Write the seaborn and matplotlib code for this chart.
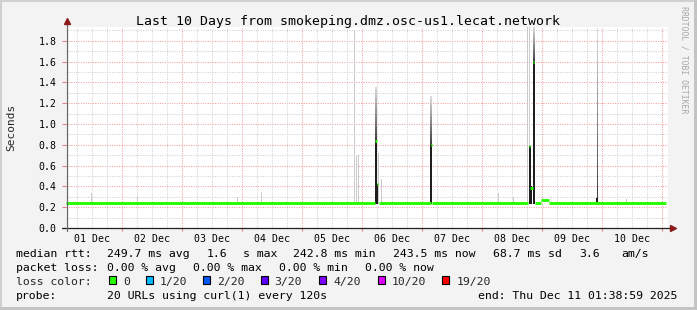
import numpy as np
import pandas as pd
import matplotlib
matplotlib.use("Agg")
import matplotlib.pyplot as plt
from matplotlib.patches import Rectangle
from matplotlib.colors import to_rgb
import seaborn as sns

# ------------------------------------------------------------------ data
title = "Last 10 Days from smokeping.dmz.osc-us1.lecat.network"
day_labels = ["01 Dec", "02 Dec", "03 Dec", "04 Dec", "05 Dec",
              "06 Dec", "07 Dec", "08 Dec", "09 Dec", "10 Dec"]
day_label_pos = [0.5, 1.5, 2.5, 3.5, 4.5, 5.5, 6.5, 7.5, 8.5, 9.5]   # days since 01 Dec 00:00
y_ticks = [0.0, 0.2, 0.4, 0.6, 0.8, 1.0, 1.2, 1.4, 1.6, 1.8]
y_tick_labels = ["0.0", "0.2", "0.4", "0.6", "0.8", "1.0", "1.2", "1.4", "1.6", "1.8"]

# median rtt (seconds), drawn as horizontal pieces (time in days since 01 Dec 00:00)
med_start = [0.068, 5.225, 5.250, 5.283, 6.142, 6.167, 7.783, 7.805, 7.850, 7.883, 7.983, 8.117]
med_end   = [5.225, 5.250, 5.267, 6.142, 6.167, 7.765, 7.805, 7.842, 7.875, 7.983, 8.117, 10.068]
med_value = [0.244, 0.835, 0.420, 0.244, 0.795, 0.244, 0.790, 0.385, 1.600, 0.244, 0.272, 0.244]

# dense (dark) smoke
dark_day = [5.2375, 5.258, 6.154, 7.793, 7.823, 7.867, 8.925]
dark_top = [0.835, 0.420, 0.800, 0.790, 0.400, 1.600, 0.290]

# fading smoke tails above the dense part
tail_day  = [5.2375, 6.154, 7.867, 8.925]
tail_low  = [0.835, 0.800, 1.600, 0.290]
tail_high = [1.360, 1.270, 1.933, 1.920]

# light smoke (single pings)
light_day = [0.495, 1.262, 2.922, 3.317, 4.872, 4.912, 4.938, 5.272, 5.322,
             7.272, 7.517, 7.762, 7.785, 9.412]
light_top = [0.340, 0.300, 0.300, 0.350, 1.900, 0.700, 0.700, 0.720, 0.470,
             0.340, 0.300, 1.933, 1.933, 0.280]

loss_labels = ["0", "1/20", "2/20", "3/20", "4/20", "10/20", "19/20"]
loss_colors = ["#26ff00", "#00b8ff", "#0059ff", "#5e00ff", "#7e00ff", "#dd00ff", "#ff0000"]

# ------------------------------------------------------------------ style
sns.set_style("white")
plt.rcParams["font.family"] = ["DejaVu Sans Mono", "DejaVu Sans"]

W, H = 697, 310
def fx(px): return px / W
def fy(py): return 1 - py / H

fig = plt.figure(figsize=(W / 100, H / 100), dpi=100, facecolor="#f3f3f3")
ax = fig.add_axes([fx(66), fy(228), (668 - 66) / W, (228 - 27) / H])
ax.set_facecolor("white")
X0, X1, Y0, Y1 = 0.0667, 10.1, 0.0, 1.9327
ax.set_xlim(X0, X1)
ax.set_ylim(Y0, Y1)
for s in ax.spines.values():
    s.set_visible(False)

# grid
dot = (0, (1.0, 1.3))
for i in range(1, 20):
    v = i * 0.1
    if i % 2:
        ax.axhline(v, color="#d2d2d2", ls=dot, lw=0.75, zorder=0)
    else:
        ax.axhline(v, color="#f2a0a0", ls=dot, lw=0.75, zorder=0)
for i in range(1, 41):
    v = i * 0.25
    if i % 4:
        ax.axvline(v, color="#d2d2d2", ls=dot, lw=0.75, zorder=0)
    else:
        ax.axvline(v, color="#f2a0a0", ls=dot, lw=0.75, zorder=0)

px_day = 1 / 60.0
floor = 0.233

# light smoke
ax.bar(light_day, [t - floor for t in light_top], bottom=floor, width=1.0 * px_day,
       color="#cbcbcb", linewidth=0, zorder=2)

# fading tails
c0, c1 = np.array(to_rgb("#444444")), np.array(to_rgb("#dadada"))
n = 14
for d, lo, hi in zip(tail_day, tail_low, tail_high):
    step = (hi - lo) / n
    for k in range(n):
        col = c0 + (c1 - c0) * (k / (n - 1))
        ax.bar(d, step, bottom=lo + k * step, width=1.5 * px_day,
               color=col, linewidth=0, zorder=3)

# dense smoke
ax.bar(dark_day, [t - floor for t in dark_top], bottom=floor, width=2.0 * px_day,
       color="#1e1e1e", linewidth=0, zorder=4)

# median line pieces
rows = []
for k, (a, b, v) in enumerate(zip(med_start, med_end, med_value)):
    rows.append({"day": a, "rtt": v, "seg": k})
    rows.append({"day": b, "rtt": v, "seg": k})
med_df = pd.DataFrame(rows)
sns.lineplot(data=med_df, x="day", y="rtt", units="seg", estimator=None,
             color=loss_colors[0], lw=2.1, ax=ax, zorder=5,
             solid_capstyle="butt", legend=False)
ax.set_xlabel("")
ax.set_ylabel("")

# ticks
ax.set_yticks(y_ticks)
ax.set_yticklabels(y_tick_labels)
ax.set_xticks(day_label_pos)
ax.set_xticklabels(day_labels)
ax.set_xticks([float(i) for i in range(1, 11)], minor=True)
ax.tick_params(axis="y", which="major", length=3, width=0.8, color="#e08080",
               pad=4, labelsize=7.1, labelcolor="black", left=True)
ax.tick_params(axis="x", which="major", length=0, pad=4.5, labelsize=7.1, labelcolor="black")
ax.tick_params(axis="x", which="minor", length=2.5, width=0.8, color="#e08080", bottom=True)

# axis lines with arrows
ax.plot([(62 - 66) / 602, (672 - 66) / 602], [0, 0], transform=ax.transAxes,
        color="#222222", lw=0.9, clip_on=False, zorder=6)
ax.plot([0.8 / 602, 0.8 / 602], [-3 / 201, (228 - 22) / 201], transform=ax.transAxes,
        color="#666666", lw=0.9, clip_on=False, zorder=6)
ax.plot([(673 - 66) / 602], [0], transform=ax.transAxes, marker=">", ms=4.5,
        color="#8b1a1a", clip_on=False, zorder=7)
ax.plot([0.8 / 602], [(228 - 21) / 201], transform=ax.transAxes, marker="^", ms=4.5,
        color="#8b1a1a", clip_on=False, zorder=7)

# title and axis label
fig.text(fx(348), fy(24.5), title, ha="center", va="baseline", fontsize=9.55, color="black")
fig.text(fx(11), fy(127), "Seconds", rotation=90, ha="center", va="center", fontsize=8)
fig.text(fx(684), fy(60), "RRDTOOL / TOBI OETIKER", rotation=-90, ha="center", va="center",
         fontsize=5.9, color="#a8a8a8")

# legend
LF = 8.25
row_y = [257, 271, 285, 299]
row1 = [("median rtt:", 16), ("249.7 ms avg", 107), ("1.6", 207), ("s max", 243),
        ("242.8 ms min", 293), ("243.5 ms now", 393), ("68.7 ms sd", 493), ("3.6", 579),
        ("am/s", 621)]
row2 = [("packet loss:", 16), ("0.00 % avg", 107), ("0.00 % max", 193),
        ("0.00 % min", 279), ("0.00 % now", 365)]
row4 = [("probe:", 16), ("20 URLs using curl(1) every 120s", 107),
        ("end: Thu Dec 11 01:38:59 2025", 478)]
for items, yy in ((row1, row_y[0]), (row2, row_y[1]), (row4, row_y[3])):
    for txt, xx in items:
        fig.text(fx(xx), fy(yy), txt, ha="left", va="baseline", fontsize=LF, color="black")
fig.text(fx(16), fy(row_y[2]), "loss color:", ha="left", va="baseline", fontsize=LF)
sq_x = [108.7, 146.3, 203.3, 260.7, 319.3, 377.7, 442.3]
lab_x = [123.3, 160, 217.3, 274, 333.3, 391.7, 456.7]
for c, lab, sx, lx in zip(loss_colors, loss_labels, sq_x, lab_x):
    fig.patches.append(Rectangle((fx(sx), fy(284)), 7 / W, 8 / H, transform=fig.transFigure,
                                 facecolor=c, edgecolor="black", lw=0.8))
    fig.text(fx(lx), fy(row_y[2]), lab, ha="left", va="baseline", fontsize=LF)

# frame
fig.patches.append(Rectangle((0, 1 - 2 / H), 1, 2 / H, transform=fig.transFigure,
                             facecolor="#d0d0d0", lw=0))
fig.patches.append(Rectangle((0, 0), 2 / W, 1, transform=fig.transFigure,
                             facecolor="#d0d0d0", lw=0))
fig.patches.append(Rectangle((0, 0), 1, 3 / H, transform=fig.transFigure,
                             facecolor="#c4c4c4", lw=0))
fig.patches.append(Rectangle((1 - 3 / W, 0), 3 / W, 1, transform=fig.transFigure,
                             facecolor="#c4c4c4", lw=0))

fig.savefig("out.png", dpi=100, facecolor=fig.get_facecolor())
